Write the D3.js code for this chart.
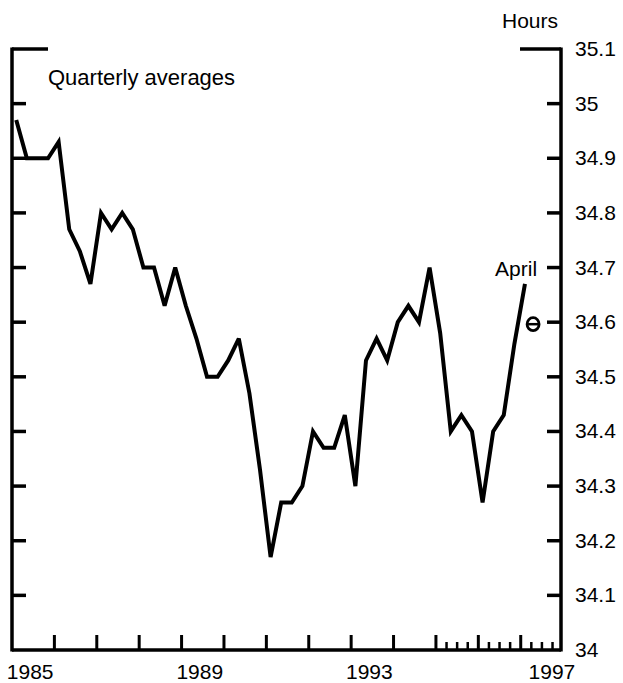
<!DOCTYPE html>
<html>
<head>
<meta charset="utf-8">
<script src="https://cdn.jsdelivr.net/npm/d3@7"></script>
<style>
  html, body { margin: 0; padding: 0; background: #fff; }
  svg { display: block; }
  text { font-family: "Liberation Sans", Arial, Helvetica, sans-serif; fill: #000; }
</style>
</head>
<body>
<svg id="chart" width="623" height="683"></svg>
<script>
// ---- data (quarterly averages, 1985Q1 .. 1997Q1) ----
const startYear = 1985;
const quarterValues = [
  34.97, 34.90, 34.90, 34.90,
  34.93, 34.77, 34.73, 34.67,
  34.80, 34.77, 34.80, 34.77,
  34.70, 34.70, 34.63, 34.70,
  34.63, 34.57, 34.50, 34.50,
  34.53, 34.57, 34.47, 34.33,
  34.17, 34.27, 34.27, 34.30,
  34.40, 34.37, 34.37, 34.43,
  34.30, 34.53, 34.57, 34.53,
  34.60, 34.63, 34.60, 34.70,
  34.58, 34.40, 34.43, 34.40,
  34.27, 34.40, 34.43, 34.56,
  34.67
];
const aprilValue = [34.60];
const aprilLabel = ["April"];
const yTickValues = [34, 34.1, 34.2, 34.3, 34.4, 34.5, 34.6, 34.7, 34.8, 34.9, 35, 35.1];
const yTickLabels = ["34", "34.1", "34.2", "34.3", "34.4", "34.5", "34.6", "34.7", "34.8", "34.9", "35", "35.1"];
const xYearTicks = [1986, 1987, 1988, 1989, 1990, 1991, 1992, 1993, 1994, 1995, 1996, 1997];
const xMinorTicks = [1995.25, 1995.5, 1995.75, 1996.25, 1996.5, 1996.75, 1997.25, 1997.5, 1997.75];
const xLabelYears = [1985, 1989, 1993, 1997];
const xLabels = ["1985", "1989", "1993", "1997"];
const unitLabel = "Hours";
const noteLabel = "Quarterly averages";

// ---- layout ----
const L = 12, R = 561, T = 49, B = 650;
const svg = d3.select("#chart");

const x = d3.scaleLinear().domain([1985, 1997.95]).range([L, R]);
const y = d3.scaleLinear().domain([34, 35.1]).range([B, T]);

const dates = quarterValues.map((v, i) => startYear + i / 4 + 0.1);
const pts = quarterValues.map((v, i) => [dates[i], v]);

const axisW = 3.5;

// frame axes
const g = svg.append("g");
g.append("line").attr("x1", L).attr("x2", L).attr("y1", T - 1.5).attr("y2", B + 1.5)
  .attr("stroke", "#000").attr("stroke-width", axisW);
g.append("line").attr("x1", R).attr("x2", R).attr("y1", T - 1.5).attr("y2", B + 1.5)
  .attr("stroke", "#000").attr("stroke-width", axisW);
g.append("line").attr("x1", L).attr("x2", R).attr("y1", B).attr("y2", B)
  .attr("stroke", "#000").attr("stroke-width", axisW);

// y ticks (left and right)
const yt = yTickValues.map((v, i) => ({ v, label: yTickLabels[i], top: v === 35.1 }));
g.selectAll(".ytl").data(yt.filter(d => d.v > 34)).enter().append("line")
  .attr("x1", L).attr("x2", d => d.top ? L + 36 : L + 14)
  .attr("y1", d => y(d.v)).attr("y2", d => y(d.v))
  .attr("stroke", "#000").attr("stroke-width", 3.5);
g.selectAll(".ytr").data(yt.filter(d => d.v > 34)).enter().append("line")
  .attr("x1", R).attr("x2", d => d.top ? R - 41 : R - 14)
  .attr("y1", d => y(d.v)).attr("y2", d => y(d.v))
  .attr("stroke", "#000").attr("stroke-width", 3.5);
g.selectAll(".ylab").data(yt).enter().append("text")
  .attr("x", R + 14).attr("y", d => y(d.v) + 7)
  .attr("font-size", 21).text(d => d.label);

// x ticks
g.selectAll(".xt").data(xYearTicks).enter().append("line")
  .attr("x1", d => x(d)).attr("x2", d => x(d))
  .attr("y1", B).attr("y2", B - 15)
  .attr("stroke", "#000").attr("stroke-width", 3);
g.selectAll(".xm").data(xMinorTicks).enter().append("line")
  .attr("x1", d => x(d)).attr("x2", d => x(d))
  .attr("y1", B).attr("y2", B - 8)
  .attr("stroke", "#000").attr("stroke-width", 2.5);
g.selectAll(".xlab").data(xLabelYears).enter().append("text")
  .attr("x", (d, i) => i === xLabelYears.length - 1 ? x(d + 0.5) + 10 : x(d + 0.5) - 3)
  .attr("y", 679).attr("text-anchor", "middle").attr("font-size", 21)
  .text((d, i) => xLabels[i]);

// unit and note
svg.append("text").attr("x", 558).attr("y", 28).attr("text-anchor", "end")
  .attr("font-size", 21).text(unitLabel);
svg.append("text").attr("x", 48).attr("y", 85)
  .attr("font-size", 22).text(noteLabel);

// series line
const line = d3.line().x(d => x(d[0])).y(d => y(d[1])).curve(d3.curveLinear);
svg.append("path").datum(pts).attr("d", line)
  .attr("fill", "none").attr("stroke", "#000").attr("stroke-width", 4)
  .attr("stroke-linejoin", "miter").attr("stroke-miterlimit", 3);

// April marker
const aprilDate = 1997 + 3.5 / 12;
const ax = x(aprilDate), ay = y(aprilValue[0]);
svg.append("ellipse").attr("cx", ax).attr("cy", ay + 2).attr("rx", 6).attr("ry", 6.5)
  .attr("fill", "none").attr("stroke", "#000").attr("stroke-width", 2.8);
svg.append("line").attr("x1", ax - 5).attr("x2", ax + 5).attr("y1", ay + 2).attr("y2", ay + 2)
  .attr("stroke", "#000").attr("stroke-width", 2.5);
svg.append("text").attr("x", ax + 4).attr("y", y(34.7) + 8).attr("text-anchor", "end")
  .attr("font-size", 21).text(aprilLabel[0]);
</script>
</body>
</html>
